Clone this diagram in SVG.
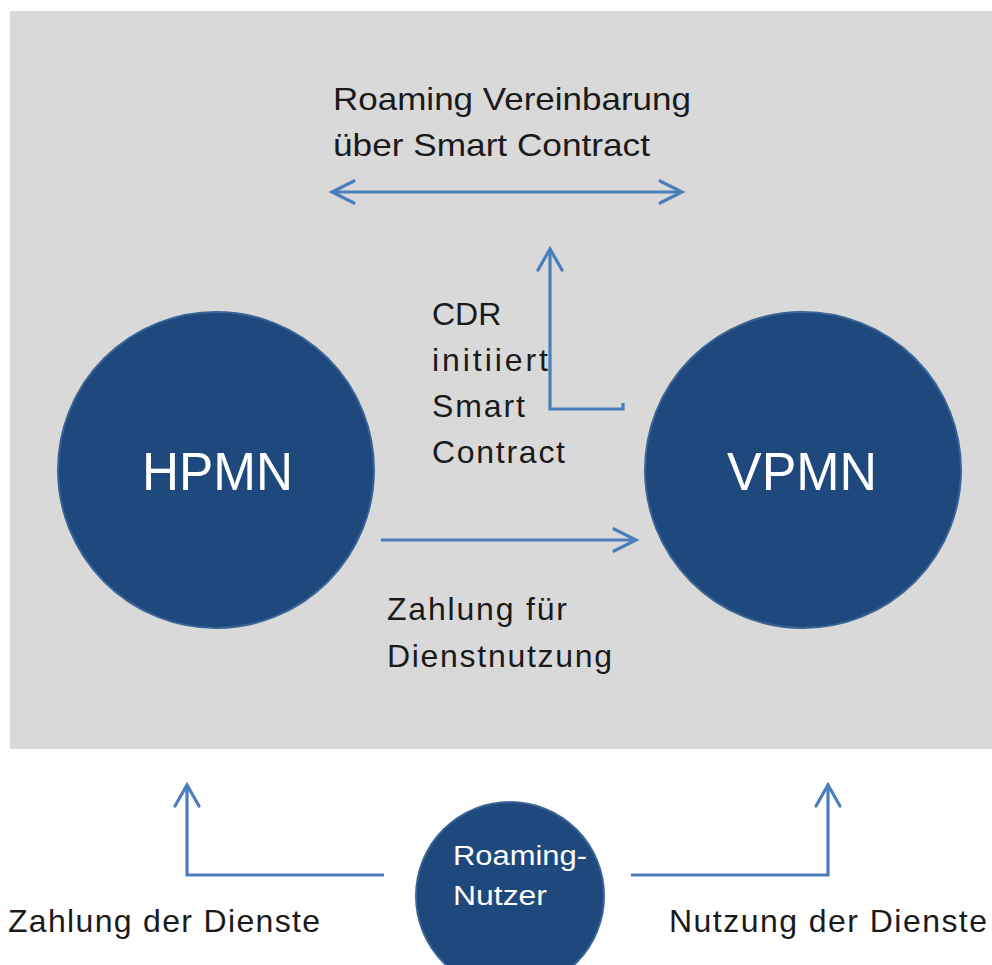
<svg xmlns="http://www.w3.org/2000/svg" width="992" height="965" viewBox="0 0 992 965">
<defs>
<style>
.conn{fill:none;stroke:#4a7ebb;stroke-width:3.2;stroke-linejoin:miter}
.head{fill:none;stroke:#4a7ebb;stroke-width:3.2;stroke-linecap:round;stroke-linejoin:miter}
.lbl{font-family:"Liberation Sans",Arial,sans-serif;font-size:32px;fill:#1a1a1a}
.node{fill:#1f497d;stroke:#3a6496;stroke-width:2}
.ntext{font-family:"Liberation Sans",Arial,sans-serif;fill:#ffffff}
</style>
</defs>
<rect x="0" y="0" width="992" height="965" fill="#ffffff"/>
<rect id="background" x="10" y="11" width="982" height="738" fill="#d9d9d9"/>
<g id="connectors">
<path class="conn" d="M332,192 H682"/>
<path class="head" d="M354,181 L332,192 L354,203"/>
<path class="head" d="M660,181 L682,192 L660,203"/>
<path class="conn" d="M623,403 V409 H550 V250"/>
<path class="head" d="M538,270 L550,249 L562,270"/>
<path class="conn" d="M381,540 H635"/>
<path class="head" d="M614,529 L636,540 L614,551"/>
<path class="conn" d="M384,875 H187 V787"/>
<path class="head" d="M175,806 L187,785 L199,806"/>
<path class="conn" d="M631,875 H828 V787"/>
<path class="head" d="M816,806 L828,785 L840,806"/>
</g>
<g id="label-roaming-vereinbarung">
<text class="lbl" x="333" y="110" textLength="358" lengthAdjust="spacingAndGlyphs">Roaming Vereinbarung</text>
<text class="lbl" x="333" y="156" textLength="317" lengthAdjust="spacingAndGlyphs">über Smart Contract</text>
</g>
<g id="label-cdr">
<text class="lbl" x="432" y="325">CDR</text>
<text class="lbl" x="432" y="371" textLength="116" lengthAdjust="spacing">initiiert</text>
<text class="lbl" x="432" y="417" textLength="93" lengthAdjust="spacing">Smart</text>
<text class="lbl" x="432" y="463" textLength="133" lengthAdjust="spacing">Contract</text>
</g>
<g id="label-zahlung">
<text class="lbl" x="387" y="620" textLength="180" lengthAdjust="spacing">Zahlung für</text>
<text class="lbl" x="387" y="667" textLength="225" lengthAdjust="spacing">Dienstnutzung</text>
</g>
<g id="hpmn">
<circle class="node" cx="216" cy="470" r="158"/>
<text class="ntext" x="142" y="490" font-size="54" textLength="151" lengthAdjust="spacingAndGlyphs">HPMN</text>
</g>
<g id="vpmn">
<circle class="node" cx="803" cy="470" r="158"/>
<text class="ntext" x="727" y="490" font-size="54" textLength="150" lengthAdjust="spacingAndGlyphs">VPMN</text>
</g>
<g id="roaming-nutzer">
<circle class="node" cx="510" cy="896" r="94"/>
<text class="ntext" x="453" y="865" font-size="27" textLength="134" lengthAdjust="spacingAndGlyphs">Roaming-</text>
<text class="ntext" x="453" y="905" font-size="27" textLength="94" lengthAdjust="spacingAndGlyphs">Nutzer</text>
</g>
<g id="label-zahlung-dienste">
<text class="lbl" x="8" y="932" textLength="312" lengthAdjust="spacing">Zahlung der Dienste</text>
</g>
<g id="label-nutzung-dienste">
<text class="lbl" x="669" y="932" textLength="318" lengthAdjust="spacing">Nutzung der Dienste</text>
</g>
</svg>
